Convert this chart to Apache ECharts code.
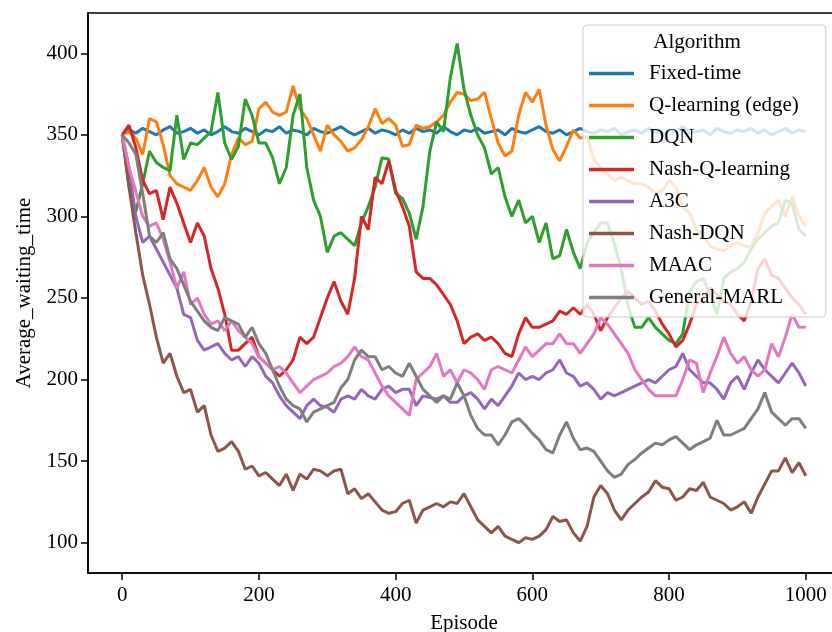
<!DOCTYPE html>
<html>
<head>
<meta charset="utf-8">
<script src="https://cdn.jsdelivr.net/npm/echarts@6/dist/echarts.min.js"></script>
<style>html,body{margin:0;padding:0;background:#fff;}#c{width:832px;height:632px;}</style>
</head>
<body>
<div id="c"></div>
<script>
const episodes = [0,10,20,30,40,50,60,70,80,90,100,110,120,130,140,150,160,170,180,190,200,210,220,230,240,250,260,270,280,290,300,310,320,330,340,350,360,370,380,390,400,410,420,430,440,450,460,470,480,490,500,510,520,530,540,550,560,570,580,590,600,610,620,630,640,650,660,670,680,690,700,710,720,730,740,750,760,770,780,790,800,810,820,830,840,850,860,870,880,890,900,910,920,930,940,950,960,970,980,990,1000];
const xTicks = [0,200,400,600,800,1000];
const yTicks = [100,150,200,250,300,350,400];
const seriesNames = ['Fixed-time','Q-learning (edge)','DQN','Nash-Q-learning','A3C','Nash-DQN','MAAC','General-MARL'];

const fixedTime = [350,353,351,354,352,350,353,355,351,352, 354,351,353,350,352,355,352,351,354,352, 350,353,352,355,351,353,352,350,354,352, 351,353,355,352,350,352,354,351,353,352, 350,353,351,354,352,353,351,355,352,350, 353,352,354,351,352,353,350,354,352,351, 353,355,352,351,353,350,352,354,352,351, 353,352,354,350,352,353,351,354,352,350, 353,352,355,351,352,353,350,354,352,351, 353,352,354,351,353,350,352,354,351,353, 352];
const qLearning = [350,352,348,338,360,358,344,325,320,318, 316,322,330,318,312,320,338,348,344,346, 366,370,364,362,364,380,366,360,350,340, 356,350,346,340,342,347,355,366,357,360, 356,343,344,356,354,355,358,362,370,376, 375,371,372,376,360,345,337,340,362,376, 370,378,356,341,334,343,353,348,349,335, 330,326,322,324,322,320,320,318,314,316, 322,318,306,302,292,288,282,280,279,282, 284,282,281,290,302,306,310,300,312,300, 294];
const dqn = [350,318,303,320,340,333,330,328,362,335, 345,344,348,352,376,345,335,343,372,362, 345,345,336,320,330,362,375,330,310,300, 278,288,290,286,282,296,306,318,336,335, 314,311,302,286,306,340,358,352,385,406, 378,362,350,342,326,330,312,300,310,296, 300,284,296,274,276,292,278,268,284,290, 296,296,283,268,245,232,232,238,232,228, 224,222,228,254,260,262,252,240,262,266, 268,272,280,286,290,294,296,310,308,292, 288];
const nashQ = [350,356,342,322,314,316,298,318,308,296, 284,296,288,268,256,240,218,218,222,226, 214,210,206,202,206,212,226,222,226,238, 250,260,248,240,262,300,292,324,320,334, 316,306,294,266,262,262,258,252,246,236, 222,226,228,224,226,222,216,214,228,238, 232,232,234,236,242,240,244,240,246,240, 230,238,244,250,254,250,246,248,242,234, 228,220,224,234,246,250,256,252,248,246, 240,236,248,268,274,264,262,256,250,246, 240];
const a3c = [350,330,300,284,288,280,272,264,256,240, 238,224,218,220,222,216,212,214,208,214, 210,202,198,190,184,180,176,184,188,184, 183,180,188,190,188,194,190,188,194,196, 192,194,194,184,190,189,188,190,186,186, 190,192,188,182,188,184,190,196,204,200, 202,200,204,206,212,204,202,196,198,194, 188,192,190,192,194,196,198,200,198,202, 206,208,216,206,202,198,198,194,188,198, 202,194,204,212,206,202,198,204,210,204, 196];
const nashDqn = [350,318,290,264,246,226,210,216,202,192, 194,180,184,166,156,158,162,156,145,147, 141,143,139,135,142,132,142,139,145,144, 141,144,145,130,133,127,130,125,120,118, 119,124,126,112,120,122,124,122,125,124, 130,122,114,110,106,110,104,102,100,103, 102,104,108,116,113,114,106,101,110,128, 135,130,120,114,120,124,128,131,138,134, 133,126,128,133,132,137,128,126,124,120, 122,125,118,128,136,144,144,152,143,149, 141];
const maac = [350,330,315,300,294,296,286,272,256,266, 246,250,240,234,236,230,236,230,226,222, 214,210,206,208,204,198,192,196,200,202, 204,208,210,214,220,214,212,204,196,190, 186,182,178,200,204,208,216,202,206,198, 206,204,200,194,206,208,206,204,212,220, 214,218,222,222,228,222,222,216,222,228, 238,234,228,222,216,206,200,194,190,190, 190,190,200,212,210,192,204,214,226,216, 210,214,206,202,206,222,214,226,240,232, 232];
const generalMarl = [350,345,338,314,288,284,290,274,268,258, 248,242,236,232,230,238,236,234,226,232, 222,216,206,196,188,184,182,174,180,182, 184,186,195,200,212,218,214,214,206,208, 204,202,210,202,194,190,186,190,188,198, 190,178,170,166,166,160,166,174,176,172, 167,163,157,155,166,174,164,157,158,156, 150,144,140,142,148,151,155,158,161,160, 163,165,161,157,160,162,164,175,166,166, 168,170,176,182,192,180,176,172,176,176, 170];

const allValues = [fixedTime,qLearning,dqn,nashQ,a3c,nashDqn,maac,generalMarl];
const colors = ['#1f77b4','#ff7f0e','#2ca02c','#d62728','#9467bd','#8c564b','#e377c2','#7f7f7f'];
const FONT = '"Liberation Serif","DejaVu Serif",serif';

const chart = echarts.init(document.getElementById('c'), null, {renderer:'canvas'});
chart.setOption({
  animation:false,
  backgroundColor:'#fff',
  grid:{left:88, top:13, width:752, height:560, outerBoundsMode:'none', containLabel:false, show:true, borderColor:'#000', borderWidth:1.5, backgroundColor:'transparent'},
  xAxis:{
    type:'value', min:-50, max:1050,
    name:'Episode', nameLocation:'middle', nameGap:40,
    nameTextStyle:{fontFamily:FONT, fontSize:21, color:'#000'},
    axisLine:{show:true, onZero:false, lineStyle:{color:'#000', width:1.5}},
    axisTick:{show:true, length:7, lineStyle:{color:'#000', width:1.5}, customValues:xTicks},
    axisLabel:{fontFamily:FONT, fontSize:21, color:'#000', margin:12, customValues:xTicks, formatter:v=>String(v)},
    splitLine:{show:false}
  },
  yAxis:{
    type:'value', min:81.4, max:424.7,
    name:'Average_waiting_time', nameLocation:'middle', nameGap:53,
    nameTextStyle:{fontFamily:FONT, fontSize:21, color:'#000'},
    axisLine:{show:true, onZero:false, lineStyle:{color:'#000', width:1.5}},
    axisTick:{show:true, length:7, lineStyle:{color:'#000', width:1.5}, customValues:yTicks},
    axisLabel:{fontFamily:FONT, fontSize:21, color:'#000', margin:10, customValues:yTicks, formatter:v=>String(v)},
    splitLine:{show:false}
  },
  legend:{
    orient:'vertical', left:583, top:25,
    padding:[38,27,9,6],
    backgroundColor:'rgba(255,255,255,0.8)', borderColor:'#cccccc', borderWidth:1, borderRadius:4,
    icon:'rect', itemWidth:45, itemHeight:3.5, itemGap:11,
    textStyle:{fontFamily:FONT, fontSize:21, lineHeight:21, color:'#000', padding:[0,0,0,10]},
    data:seriesNames, z:10
  },
  graphic:[{type:'text', x:697, y:42, z:100, style:{text:'Algorithm', fontFamily:FONT, fontSize:21, fill:'#000', textAlign:'center', textVerticalAlign:'middle'}}],
  series: seriesNames.map((n,i)=>({
    name:n, type:'line', showSymbol:false, symbol:'none', color:colors[i],
    lineStyle:{width:3, color:colors[i]},
    data: episodes.map((e,j)=>[e, allValues[i][j]]),
    z:2
  }))
});
</script>
</body>
</html>
